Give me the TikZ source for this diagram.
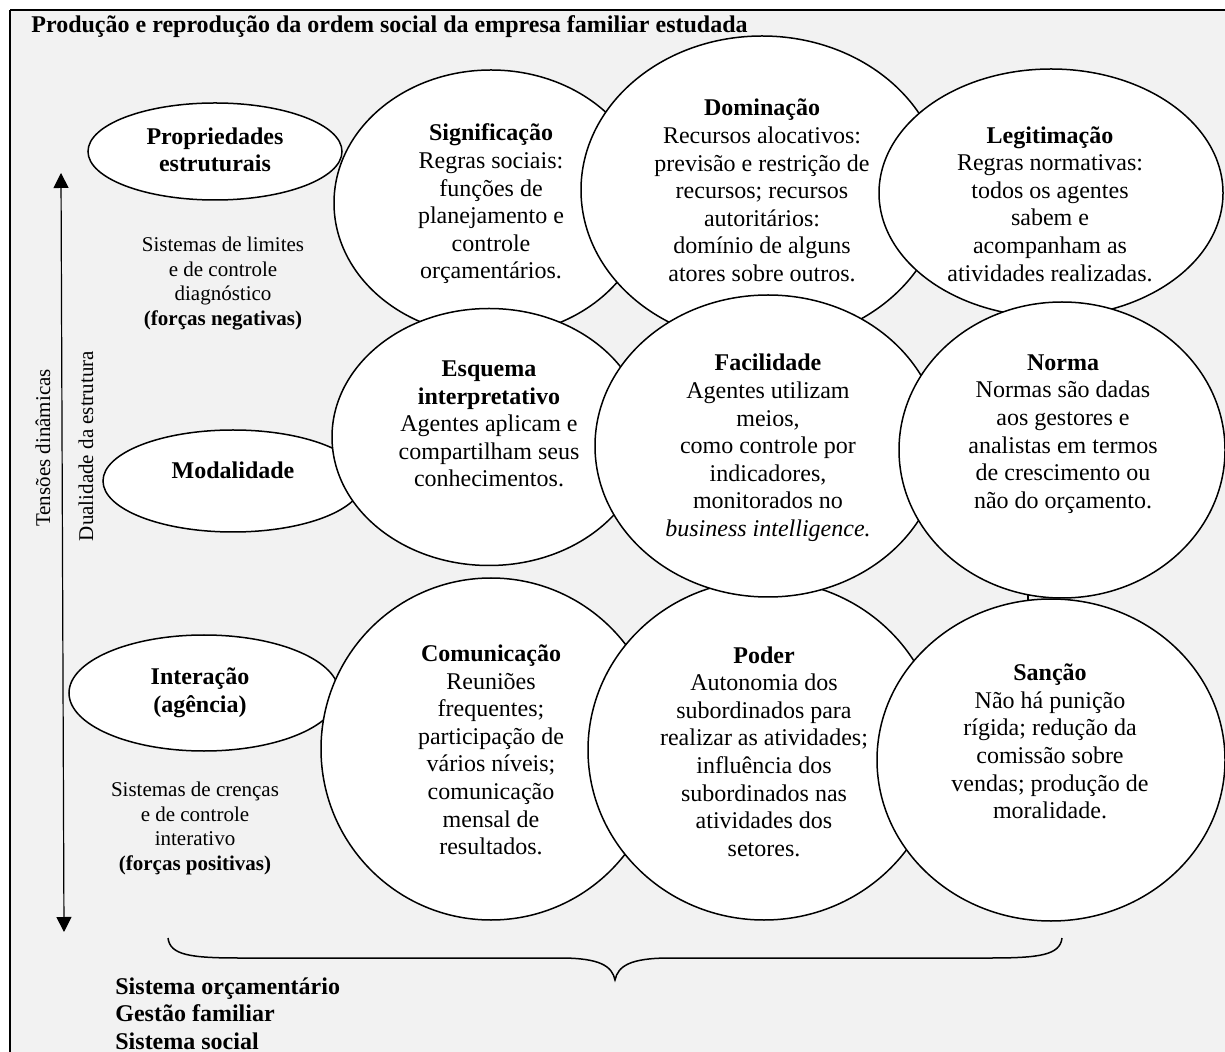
\documentclass[tikz,border=0pt]{standalone}
\usepackage{fontspec}
\setmainfont{Liberation Serif}
\usetikzlibrary{shapes.geometric,arrows.meta}
\definecolor{bggray}{HTML}{F2F2F2}
\tikzset{
  ell/.style={ellipse, draw, fill=white, line width=0.75pt, inner sep=0pt},
  body/.style={align=center, font=\fontsize{12pt}{13.8pt}\selectfont, inner sep=0pt},
  small/.style={align=center, font=\fontsize{10.5pt}{12.2pt}\selectfont, inner sep=0pt},
  bold/.style={font=\bfseries\fontsize{12pt}{13.8pt}\selectfont, inner sep=0pt},
}
\begin{document}
\begin{tikzpicture}[x=0.5pt,y=-0.5pt]
\useasboundingbox (0,0) rectangle (1225,1052);
\fill[white] (0,0) rectangle (1225,1052);
\fill[bggray] (10,10) rectangle (1225,1052);
\draw[line width=1pt] (10,10) -- (1225,10);
\draw[line width=0.75pt] (10,10) -- (10,1052);

% title
\node[bold, anchor=base west] (title) at (31,33) {Produção e reprodução da ordem social da empresa familiar estudada};

% row 1
\node[ell, minimum width=157pt, minimum height=133pt] (sig) at (491,203) {};
\node[ell, minimum width=181pt, minimum height=154pt] (dom) at (762,190) {};
\node[ell, minimum width=172pt, minimum height=124pt] (leg) at (1051,193) {};

% left ellipses
\node[ell, minimum width=127pt, minimum height=48.5pt] (prop) at (215,151.5) {};
\node[ell, minimum width=130pt, minimum height=51pt] (moda) at (233,481) {};
\node[ell, minimum width=135pt, minimum height=58pt] (inter) at (204,693) {};

% row 2 and 3
\node[ell, minimum width=157pt, minimum height=128.5pt] (esq) at (489,437) {};
\node[ell, minimum width=170pt, minimum height=171pt] (com) at (491,749) {};
\node[ell, minimum width=176pt, minimum height=170pt] (pod) at (764,750) {};
\node[ell, minimum width=173pt, minimum height=151pt] (fac) at (768,446) {};
\node[ell, minimum width=163pt, minimum height=148pt] (nor) at (1062,450) {};
\node[ell, minimum width=174pt, minimum height=161pt] (san) at (1051,760) {};

% tiny joint between Norma and Sanção
\coordinate (j1) at (1028,595);
\coordinate (j2) at (1028,600.5);
\draw[line width=0.75pt] (j1) -- (j2);

% left ellipse texts
\node[body, font=\bfseries\fontsize{12pt}{13.8pt}\selectfont] (propT) at (215,150) {Propriedades\\estruturais};
\node[bold] (modaT) at (233,470) {Modalidade};
\node[body, font=\bfseries\fontsize{12pt}{13.8pt}\selectfont] (interT) at (200,693) {Interação\\(agência)};

% circle texts
\node[body] (sigT) at (491,204) {\textbf{Significação}\\Regras sociais:\\funções de\\planejamento e\\controle\\orçamentários.};
\node[body] (domT) at (762,190.5) {\textbf{Dominação}\\Recursos alocativos:\\previsão e restrição de\\recursos; recursos\\autoritários:\\domínio de alguns\\atores sobre outros.};
\node[body] (legT) at (1050,204) {\textbf{Legitimação}\\Regras normativas:\\todos os agentes\\sabem e\\acompanham as\\atividades realizadas.};
\node[body] (esqT) at (489,424) {\textbf{Esquema}\\\textbf{interpretativo}\\Agentes aplicam e\\compartilham seus\\conhecimentos.};
\node[body] (facT) at (768,448) {\textbf{Facilidade}\\Agentes utilizam\\meios,\\como controle por\\indicadores,\\monitorados no\\\textit{business intelligence.}};
\node[body] (norT) at (1063,434) {\textbf{Norma}\\Normas são dadas\\aos gestores e\\analistas em termos\\de crescimento ou\\não do orçamento.};
\node[body] (comT) at (491,750) {\textbf{Comunicação}\\Reuniões\\frequentes;\\participação de\\vários níveis;\\comunicação\\mensal de\\resultados.};
\node[body] (podT) at (764,751.5) {\textbf{Poder}\\Autonomia dos\\subordinados para\\realizar as atividades;\\influência dos\\subordinados nas\\atividades dos\\setores.};
\node[body] (sanT) at (1050,741.5) {\textbf{Sanção}\\Não há punição\\rígida; redução da\\comissão sobre\\vendas; produção de\\moralidade.};

% left side texts
\node[small] (lim) at (223,283.5) {Sistemas de limites\\e de controle\\diagnóstico\\\textbf{(forças negativas)}};
\node[small] (cren) at (195,828.5) {Sistemas de crenças\\e de controle\\interativo\\\textbf{(forças positivas)}};
\node[small, rotate=90] (tens) at (43,448) {Tensões dinâmicas};
\node[small, rotate=90] (dual) at (86,446) {Dualidade da estrutura};

% arrow
\coordinate (atop) at (61,173);
\coordinate (abot) at (64,932);
\draw[line width=0.6pt, {Triangle[width=7.5pt,length=7.5pt]}-{Triangle[width=7.5pt,length=7.5pt]}] (atop) -- (abot);

% brace
\coordinate (bl) at (168,938);
\coordinate (bt) at (615,980);
\coordinate (br) at (1062,938);
\draw[line width=0.75pt] (bl) .. controls (170,955) and (190,958) .. (240,958) -- (560,958)
  .. controls (600,958) and (612,966) .. (bt)
  .. controls (618,966) and (630,958) .. (670,958) -- (990,958)
  .. controls (1040,958) and (1060,955) .. (br);

% bottom texts
\node[bold, anchor=base west] (bs1) at (115,994) {Sistema orçamentário};
\node[bold, anchor=base west] (bs2) at (115,1021.5) {Gestão familiar};
\node[bold, anchor=base west] (bs3) at (115,1049) {Sistema social};
\end{tikzpicture}
\end{document}
